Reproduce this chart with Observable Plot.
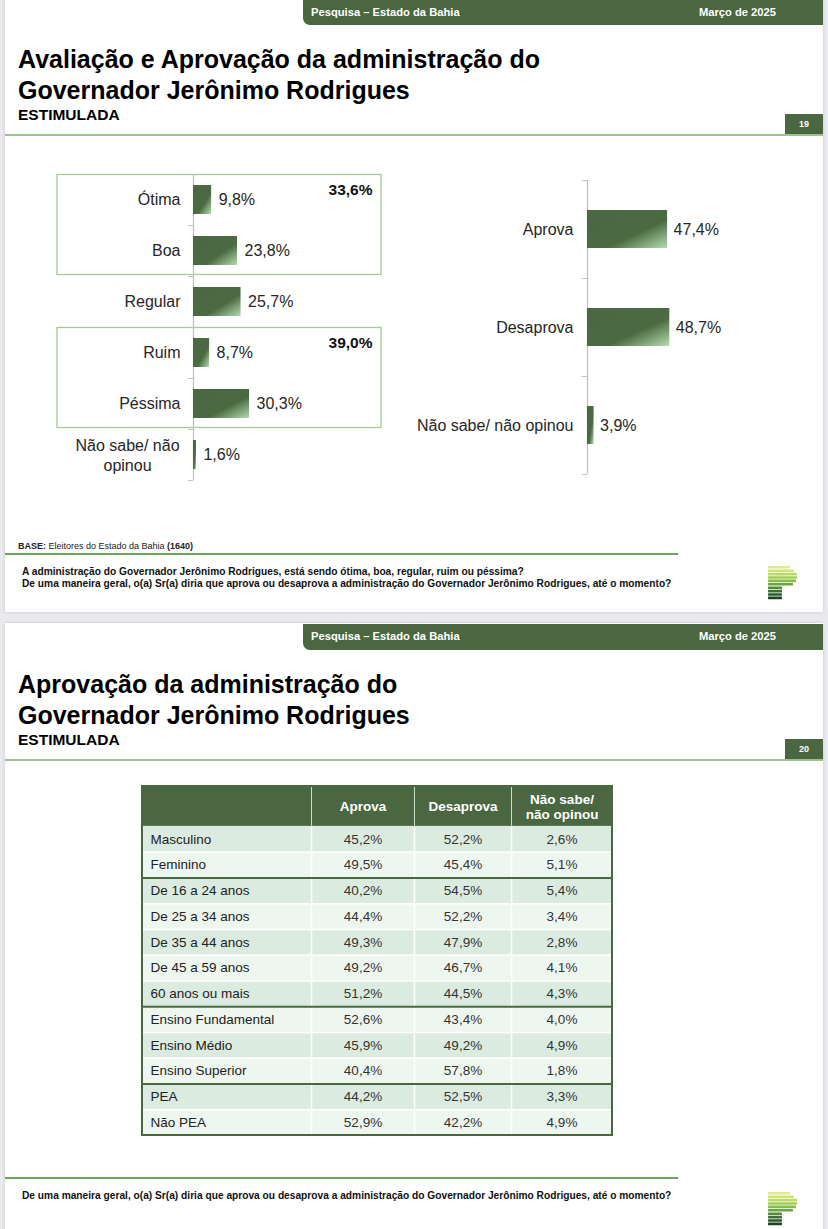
<!DOCTYPE html>
<html><head><meta charset="utf-8">
<script src="https://cdn.jsdelivr.net/npm/d3@7"></script>
<script src="https://cdn.jsdelivr.net/npm/@observablehq/plot@0.6"></script>
<style>
body{margin:0;width:828px;height:1229px;overflow:hidden;background:#e9e9ee;font-family:"Liberation Sans",Arial,sans-serif;position:relative;color:#111;}
.slide{position:absolute;left:5px;width:818px;background:#fff;box-shadow:0 0 3px rgba(0,0,0,.15);}
.abs{position:absolute;}
.hdr{background:#4a6741;color:#fff;font-weight:bold;font-size:11.2px;line-height:24px;border-bottom-left-radius:7px;}
.hdr span{position:absolute;white-space:nowrap;}
.title{font-size:25px;font-weight:bold;line-height:31px;white-space:nowrap;color:#000;}
.sub{font-size:15.5px;font-weight:bold;line-height:16px;color:#000;}
.pnum{background:#4a6741;color:#fff;font-size:9px;font-weight:bold;text-align:center;}
.gline{background:#9fc08f;height:2px;}
.fline{background:#6da35c;height:1.5px;}
.base{font-size:9px;line-height:10px;white-space:nowrap;color:#222;}
.q{font-size:10.2px;font-weight:bold;line-height:12px;white-space:nowrap;color:#111;}
</style></head>
<body>
<svg width="0" height="0" style="position:absolute">
  <defs>
    <linearGradient id="barGrad" x1="0" y1="0" x2="1" y2="1">
      <stop offset="0" stop-color="#4a6741"/>
      <stop offset="0.62" stop-color="#4b6a42"/>
      <stop offset="1" stop-color="#b4dcb0"/>
    </linearGradient>
  </defs>
</svg>

<div class="slide" style="top:-5px;height:617px;"></div>
<div class="slide" style="top:623px;height:620px;"></div>

<!-- Slide 1 -->
<div class="abs hdr" style="left:303px;top:0;width:520px;height:25px;"><span style="left:8px;">Pesquisa – Estado da Bahia</span><span style="right:47px;">Março de 2025</span></div>
<div class="abs title" style="left:18px;top:44px;">Avaliação e Aprovação da administração do<br>Governador Jerônimo Rodrigues</div>
<div class="abs sub" style="left:18px;top:107px;">ESTIMULADA</div>
<div class="abs pnum" style="left:785px;top:114px;width:38px;height:21px;line-height:21px;">19</div>
<div class="abs gline" style="left:5px;top:134px;width:818px;"></div>
<div id="left" class="abs" style="left:50px;top:170px;"></div>
<div id="right" class="abs" style="left:400px;top:170px;"></div>
<div class="abs base" style="left:18px;top:541px;"><b>BASE:</b> Eleitores do Estado da Bahia <b>(1640)</b></div>
<div class="abs fline" style="left:5px;top:553px;width:673px;"></div>
<div class="abs q" style="left:22px;top:566px;">A administração do Governador Jerônimo Rodrigues, está sendo ótima, boa, regular, ruim ou péssima?<br>De uma maneira geral, o(a) Sr(a) diria que aprova ou desaprova a administração do Governador Jerônimo Rodrigues, até o momento?</div>
<div class="abs logo" style="left:768px;top:566px;"></div>

<!-- Slide 2 -->
<div class="abs hdr" style="left:303px;top:624px;width:520px;height:26px;line-height:25px;"><span style="left:8px;">Pesquisa – Estado da Bahia</span><span style="right:47px;">Março de 2025</span></div>
<div class="abs title" style="left:18px;top:669px;">Aprovação da administração do<br>Governador Jerônimo Rodrigues</div>
<div class="abs sub" style="left:18px;top:732px;">ESTIMULADA</div>
<div class="abs pnum" style="left:785px;top:739px;width:38px;height:21px;line-height:21px;">20</div>
<div class="abs gline" style="left:5px;top:759px;width:818px;"></div>
<div id="table" class="abs" style="left:130px;top:780px;"></div>
<div class="abs fline" style="left:5px;top:1177px;width:673px;"></div>
<div class="abs q" style="left:22px;top:1190px;">De uma maneira geral, o(a) Sr(a) diria que aprova ou desaprova a administração do Governador Jerônimo Rodrigues, até o momento?</div>
<div class="abs logo" style="left:768px;top:1192px;"></div>

<script>
// ---- data ----
const avalCats = ["Ótima", "Boa", "Regular", "Ruim", "Péssima", "Não sabe/ não opinou"];
const avalValues = [9.8, 23.8, 25.7, 8.7, 30.3, 1.6];
const avalGroupMembers = [["Ótima", "Boa"], ["Ruim", "Péssima"]];
const avalGroupTotals = [33.6, 39.0];

const aprovCats = ["Aprova", "Desaprova", "Não sabe/ não opinou"];
const aprovValues = [47.4, 48.7, 3.9];

const rowLabels = ["Masculino", "Feminino", "De 16 a 24 anos", "De 25 a 34 anos", "De 35 a 44 anos", "De 45 a 59 anos", "60 anos ou mais", "Ensino Fundamental", "Ensino Médio", "Ensino Superior", "PEA", "Não PEA"];
const aprovaCol = [45.2, 49.5, 40.2, 44.4, 49.3, 49.2, 51.2, 52.6, 45.9, 40.4, 44.2, 52.9];
const desaprovaCol = [52.2, 45.4, 54.5, 52.2, 47.9, 46.7, 44.5, 43.4, 49.2, 57.8, 52.5, 42.2];
const nsnoCol = [2.6, 5.1, 5.4, 3.4, 2.8, 4.1, 4.3, 4.0, 4.9, 1.8, 3.3, 4.9];
const colHeaders = ["", "Aprova", "Desaprova", "Não sabe/\nnão opinou"];
const groupLastRows = ["Feminino", "60 anos ou mais", "Ensino Superior"];

// ---- layout / style ----
const FONT = "Liberation Sans, Arial, sans-serif";
const colWidths = [169, 103, 97, 101];
const headerRows = 1.55;
const fmt = v => d3.format(".1f")(v).replace(".", ",") + "%";

// ---- left chart ----
const aval = avalCats.map((c, i) => ({cat: c, value: avalValues[i]}));
const groups = avalGroupMembers.map((m, i) => ({first: m[0], last: m[m.length - 1], total: avalGroupTotals[i]}));
const leftStep = 51;
const left = Plot.plot({
  width: 340, height: 315, marginLeft: 143, marginRight: 18, marginTop: 5, marginBottom: 5,
  x: {domain: [0, 100], range: [143, 328], axis: null},
  y: {domain: avalCats, range: [4.5, 310.5], paddingInner: 0.43, paddingOuter: 0.215, axis: null},
  style: {fontFamily: FONT, fontSize: "16px", color: "#262626", background: "transparent", overflow: "visible"},
  marks: [
    Plot.ruleX([0], {stroke: "#c0c0c0", strokeWidth: 1.3}),
    Plot.ruleY(avalCats, {y: d => d, dy: -leftStep / 2, x1: -2.6, x2: 0, stroke: "#c0c0c0"}),
    Plot.ruleY([avalCats[avalCats.length - 1]], {y: d => d, dy: leftStep / 2, x1: -2.6, x2: 0, stroke: "#c0c0c0"}),
    Plot.barX(aval, {x: "value", y: "cat", fill: "url(#barGrad)"}),
    Plot.text(aval, {x: "value", y: "cat", text: d => fmt(d.value), textAnchor: "start", dx: 7, fontSize: 16, fill: "#262626"}),
    Plot.text(aval.filter(d => d.cat.length < 12), {x: 0, y: "cat", text: "cat", textAnchor: "end", dx: -13, fontSize: 16, fill: "#262626"}),
    Plot.text(aval.filter(d => d.cat.length >= 12), {x: 0, y: "cat", text: "cat", textAnchor: "middle", dx: -66, lineWidth: 7, lineHeight: 1.25, fontSize: 16, fill: "#262626"}),
    Plot.text(groups, {y: "first", text: d => fmt(d.total), frameAnchor: "right", textAnchor: "end", dy: -10, fontWeight: "bold", fontSize: 15.5, fill: "#111"})
  ]
});
document.getElementById("left").append(left);
// group boxes from the y scale
{
  const ys = left.scale("y");
  const step = ys.step, bw = ys.bandwidth;
  const svg = d3.select(left);
  groups.forEach(g => {
    const top = ys.apply(g.first) + bw / 2 - step / 2;
    const bottom = ys.apply(g.last) + bw / 2 + step / 2;
    svg.insert("rect", ":first-child")
      .attr("x", 7).attr("y", top + 0.5).attr("width", 324).attr("height", bottom - top - 2)
      .attr("fill", "none").attr("stroke", "#a9c69c").attr("stroke-width", 1.3);
  });
}

// ---- right chart ----
const aprov = aprovCats.map((c, i) => ({cat: c, value: aprovValues[i]}));
const rightStep = 98;
const right = Plot.plot({
  width: 340, height: 315, marginLeft: 187, marginRight: 10, marginTop: 10, marginBottom: 11,
  x: {domain: [0, 100], range: [187, 356], axis: null},
  y: {domain: aprovCats, range: [10, 304], paddingInner: 0.612, paddingOuter: 0.306, axis: null},
  style: {fontFamily: FONT, fontSize: "16px", color: "#262626", background: "transparent", overflow: "visible"},
  marks: [
    Plot.ruleX([0], {stroke: "#c0c0c0", strokeWidth: 1.3}),
    Plot.ruleY(aprovCats, {y: d => d, dy: -rightStep / 2, x1: -3, x2: 0, stroke: "#c0c0c0"}),
    Plot.ruleY([aprovCats[aprovCats.length - 1]], {y: d => d, dy: rightStep / 2, x1: -3, x2: 0, stroke: "#c0c0c0"}),
    Plot.barX(aprov, {x: "value", y: "cat", fill: "url(#barGrad)"}),
    Plot.text(aprov, {x: "value", y: "cat", text: d => fmt(d.value), textAnchor: "start", dx: 6, fontSize: 16, fill: "#262626"}),
    Plot.text(aprov, {x: 0, y: "cat", text: "cat", textAnchor: "end", dx: -14, fontSize: 16, fill: "#262626"})
  ]
});
document.getElementById("right").append(right);

// ---- table ----
const bounds = [0];
colWidths.forEach(w => bounds.push(bounds[bounds.length - 1] + w));
const totalW = bounds[bounds.length - 1];
const rows = rowLabels.map((r, i) => ({label: r, i, a: aprovaCol[i], d: desaprovaCol[i], n: nsnoCol[i]}));
const headers = colHeaders.map((h, j) => ({h, c: (bounds[j] + bounds[j + 1]) / 2})).slice(1);
const valueCols = [["a", 1], ["d", 2], ["n", 3]];
const table = Plot.plot({
  width: 500, height: 370, margin: 0,
  x: {type: "linear", domain: [0, totalW], range: [12, 12 + totalW], axis: null},
  y: {type: "linear", domain: [-headerRows, rowLabels.length], range: [6, 355], axis: null},
  color: {type: "identity"},
  style: {fontFamily: FONT, fontSize: "13.5px", background: "transparent", overflow: "visible"},
  marks: [
    Plot.rect([0], {x1: 0, x2: totalW, y1: -headerRows, y2: 0, fill: "#4a6741"}),
    Plot.rect(rows, {x1: 0, x2: totalW, y1: "i", y2: d => d.i + 1, fill: d => d.i % 2 ? "#eef6f0" : "#dcebe0"}),
    Plot.ruleY(d3.range(1, rowLabels.length), {x1: 0, x2: totalW, stroke: "#ffffff", strokeWidth: 1.5}),
    Plot.ruleX(bounds.slice(1, -1), {y1: 0, y2: rowLabels.length, stroke: "#ffffff", strokeWidth: 1.5}),
    Plot.ruleX(bounds.slice(1, -1), {y1: -headerRows, y2: 0, stroke: "#c9dac6", strokeWidth: 1}),
    Plot.ruleY(groupLastRows.map(g => rowLabels.indexOf(g) + 1), {x1: 0, x2: totalW, stroke: "#4a6741", strokeWidth: 2}),
    Plot.rect([0], {x1: 0, x2: totalW, y1: -headerRows, y2: rowLabels.length, fill: "none", stroke: "#4a6741", strokeWidth: 2}),
    Plot.text(headers, {x: "c", y: -headerRows / 2, text: "h", fill: "#ffffff", fontWeight: "bold", fontSize: 13.5, lineHeight: 1.1}),
    Plot.text(rows, {x: 0, y: d => d.i + 0.5, text: "label", textAnchor: "start", dx: 8, fill: "#222", fontSize: 13.5}),
    ...valueCols.map(([k, j]) => Plot.text(rows, {x: (bounds[j] + bounds[j + 1]) / 2, y: d => d.i + 0.5, text: d => fmt(d[k]), fill: "#333", fontSize: 13.5}))
  ]
});
document.getElementById("table").append(table);

// ---- logo (decorative) ----
const logoWidths = [22, 26, 29, 29, 28, 25, 14, 14, 14, 14];
const logoColors = ["#e2ea8e", "#d3e477", "#bcda62", "#a2cd52", "#86bc47", "#6aa63f", "#4f8c38", "#3a7332", "#2a5b2b", "#1d4424"];
document.querySelectorAll(".logo").forEach(el => {
  const s = d3.select(el).append("svg").attr("width", 32).attr("height", 36);
  s.selectAll("rect").data(logoWidths).join("rect")
    .attr("x", 0).attr("y", (d, i) => i * 3.4).attr("width", d => d).attr("height", 2.6)
    .attr("rx", 0.6).attr("fill", (d, i) => logoColors[i]);
});
</script>
</body></html>
